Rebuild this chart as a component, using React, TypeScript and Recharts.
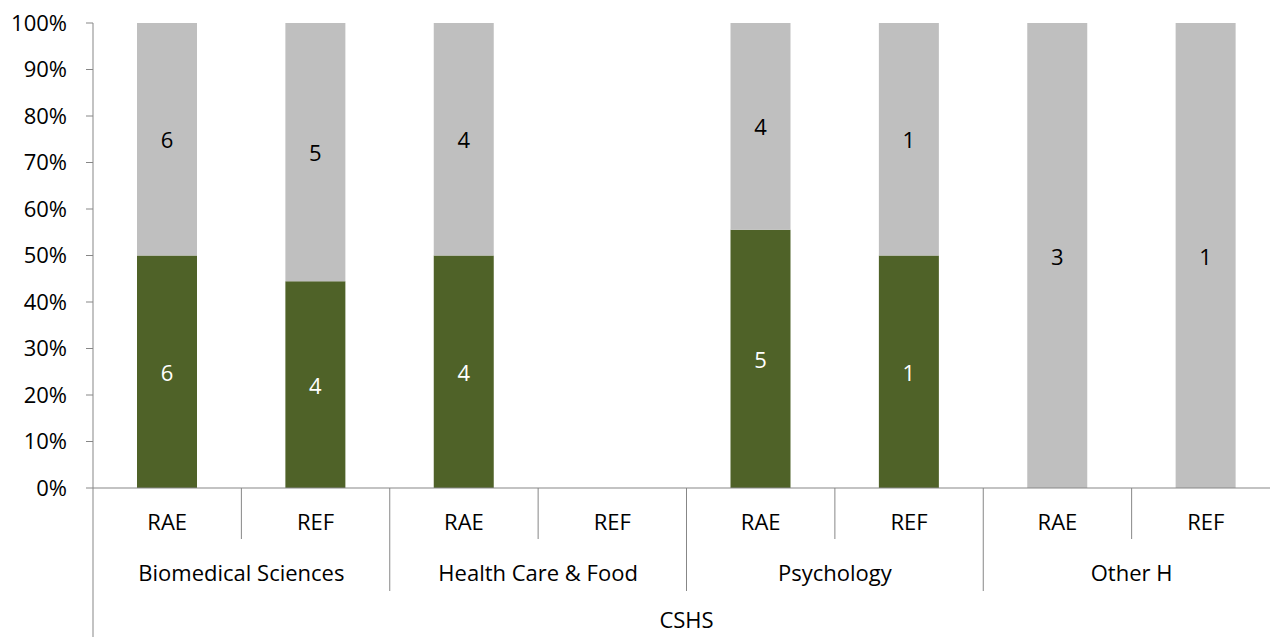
import { Bar, BarChart, LabelList, XAxis, YAxis } from "recharts";

// two-level categories: discipline group, then RAE / REF
const GROUPS = ["Biomedical Sciences", "Health Care & Food", "Psychology", "Other H"];
const ROUNDS = ["RAE", "REF"];
const PARENT_LABEL = "CSHS";

// counts per bar, in order Biomedical RAE, Biomedical REF, Health RAE, ...
const LOWER_COUNTS = [6, 4, 4, 0, 5, 1, 0, 0];
const UPPER_COUNTS = [6, 5, 4, 0, 4, 1, 3, 1];

const Y_TICKS = [0, 0.1, 0.2, 0.3, 0.4, 0.5, 0.6, 0.7, 0.8, 0.9, 1];

const GREEN = "#4F6228";
const GREY = "#BFBFBF";
const AXIS = "#878787";
const FONT = "'Open Sans', sans-serif";
const FONT_SIZE = 22;

const CHART_W = 1290;
const CHART_H = 637;
const MARGIN = { top: 23, right: 10, bottom: 0, left: 0 };
const Y_AXIS_W = 93;
const X_AXIS_H = 149;

const data = GROUPS.flatMap((group, g) =>
  ROUNDS.map((round, r) => {
    const i = g * ROUNDS.length + r;
    return { key: `${group}-${round}`, group, round, lower: LOWER_COUNTS[i], upper: UPPER_COUNTS[i] };
  }),
);

const step = (CHART_W - MARGIN.left - MARGIN.right - Y_AXIS_W) / data.length;
const plotBottom = CHART_H - MARGIN.bottom - X_AXIS_H;

function CategoryTick(props: any) {
  const { x, index } = props;
  const row = data[index];
  if (!row) return null;
  const y = plotBottom;
  const right = x + step / 2;
  const isGroupEnd = index % ROUNDS.length === ROUNDS.length - 1;
  const isLast = index === data.length - 1;
  const textProps = {
    fontFamily: FONT,
    fontSize: FONT_SIZE,
    fill: "#000",
    textAnchor: "middle" as const,
    dominantBaseline: "central" as const,
  };

  return (
    <g>
      {index === 0 ? <line x1={x - step / 2} x2={x - step / 2} y1={y} y2={y + 149} stroke={AXIS} /> : null}
      {!isLast ? (
        <line x1={right} x2={right} y1={y} y2={y + (isGroupEnd ? 103 : 51)} stroke={AXIS} />
      ) : null}
      <text x={x} y={y + 33} {...textProps}>
        {row.round}
      </text>
      {index % ROUNDS.length === 0 ? (
        <text x={right} y={y + 84} {...textProps}>
          {row.group}
        </text>
      ) : null}
      {index === data.length / 2 - 1 ? (
        <text x={right} y={y + 131} {...textProps}>
          {PARENT_LABEL}
        </text>
      ) : null}
    </g>
  );
}

function segmentLabel(color: string) {
  return (props: any) => {
    const { x, y, width, height, value } = props;
    if (!value) return null;
    return (
      <text
        x={x + width / 2}
        y={y + height / 2}
        fill={color}
        fontFamily={FONT}
        fontSize={FONT_SIZE}
        textAnchor="middle"
        dominantBaseline="central"
      >
        {value}
      </text>
    );
  };
}

export default function App() {
  return (
    <div
      style={{
        position: "absolute",
        left: 0,
        top: 0,
        width: 1270,
        height: 637,
        overflow: "hidden",
        background: "#fff",
        fontFamily: FONT,
      }}
    >
      <BarChart width={CHART_W} height={CHART_H} data={data} margin={MARGIN} stackOffset="expand" barSize={60}>
        <XAxis
          dataKey="key"
          interval={0}
          height={X_AXIS_H}
          axisLine={{ stroke: AXIS }}
          tickLine={false}
          tick={(p: any) => <CategoryTick {...p} />}
        />
        <YAxis
          width={Y_AXIS_W}
          domain={[0, 1]}
          ticks={Y_TICKS}
          interval={0}
          tickFormatter={(v: number) => `${Math.round(v * 100)}%`}
          axisLine={{ stroke: AXIS }}
          tickLine={{ stroke: AXIS }}
          tickSize={7}
          tickMargin={19}
          tick={{ fill: "#000", fontSize: FONT_SIZE, fontFamily: FONT }}
        />
        <Bar dataKey="lower" stackId="a" fill={GREEN} isAnimationActive={false}>
          <LabelList dataKey="lower" content={segmentLabel("#fff")} />
        </Bar>
        <Bar dataKey="upper" stackId="a" fill={GREY} isAnimationActive={false}>
          <LabelList dataKey="upper" content={segmentLabel("#000")} />
        </Bar>
      </BarChart>
    </div>
  );
}
